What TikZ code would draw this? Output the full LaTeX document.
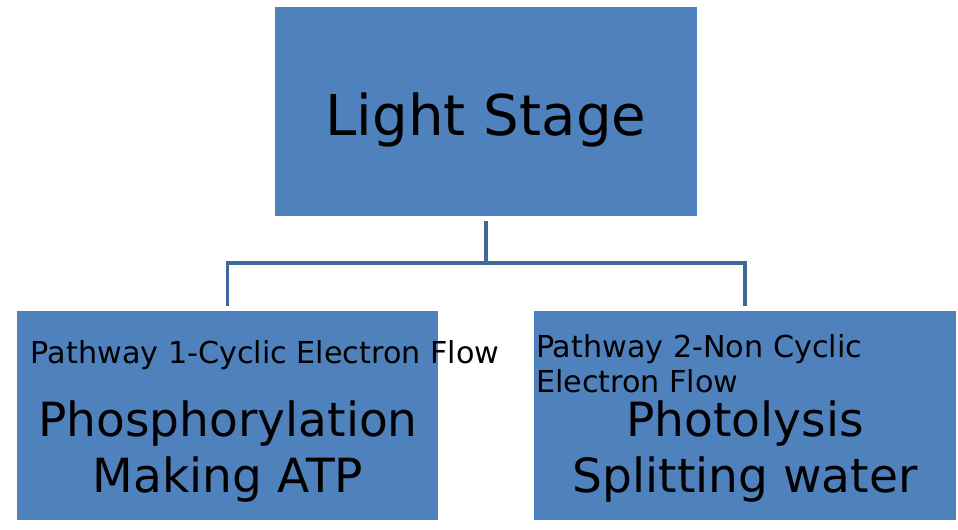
\documentclass[tikz,border=0pt]{standalone}
\usepackage{fontspec}
\setmainfont{DejaVu Sans}
\definecolor{boxblue}{HTML}{4F81BD}
\definecolor{linkblue}{HTML}{3E699B}
\begin{document}
\begin{tikzpicture}[x=0.02cm, y=-0.02cm,
			box/.style = {fill=boxblue, minimum width=8.44cm, minimum height=4.18cm, inner sep=0},
			link/.style = {draw=linkblue, line width=2pt},
			every node/.style = {inner sep=0, outer sep=0}]
			
			\useasboundingbox (0,0) rectangle (958,529);
			\node[box] (stage) at (486,111.5) {};
			\node[box] (cyclic) at (227.5,415.5) {};
			\node[box] (noncyclic) at (745,415.5) {};
			
			\node[anchor=base, font=\fontsize{32}{38}\selectfont] (stagetext) at (486,135) {Light Stage};
			\node[anchor=base west, font=\fontsize{17.2}{20}\selectfont] (cyclicpath) at (31,363) {Pathway 1-Cyclic Electron Flow};
			\node[anchor=base west, align=left, font=\fontsize{17.2}{19.8}\selectfont] (noncyclicpath) at (536,392) {Pathway 2-Non Cyclic\\Electron Flow};
			\node[anchor=base, align=center, font=\fontsize{26.8}{31.8}\selectfont] (cyclictext) at (228,492) {Phosphorylation\\Making ATP};
			\node[anchor=base, align=center, font=\fontsize{26.8}{31.8}\selectfont] (noncyclictext) at (745,492) {Photolysis\\Splitting water};
			
			\draw[link, shorten <=5*0.02cm] (stage.south) -- ++(0,47) coordinate (split);
			\draw[link, shorten >=5*0.02cm] (split) -| (cyclic.north);
			\draw[link, shorten >=5*0.02cm] (split) -| (noncyclic.north);
			\end{tikzpicture}
\end{document}
